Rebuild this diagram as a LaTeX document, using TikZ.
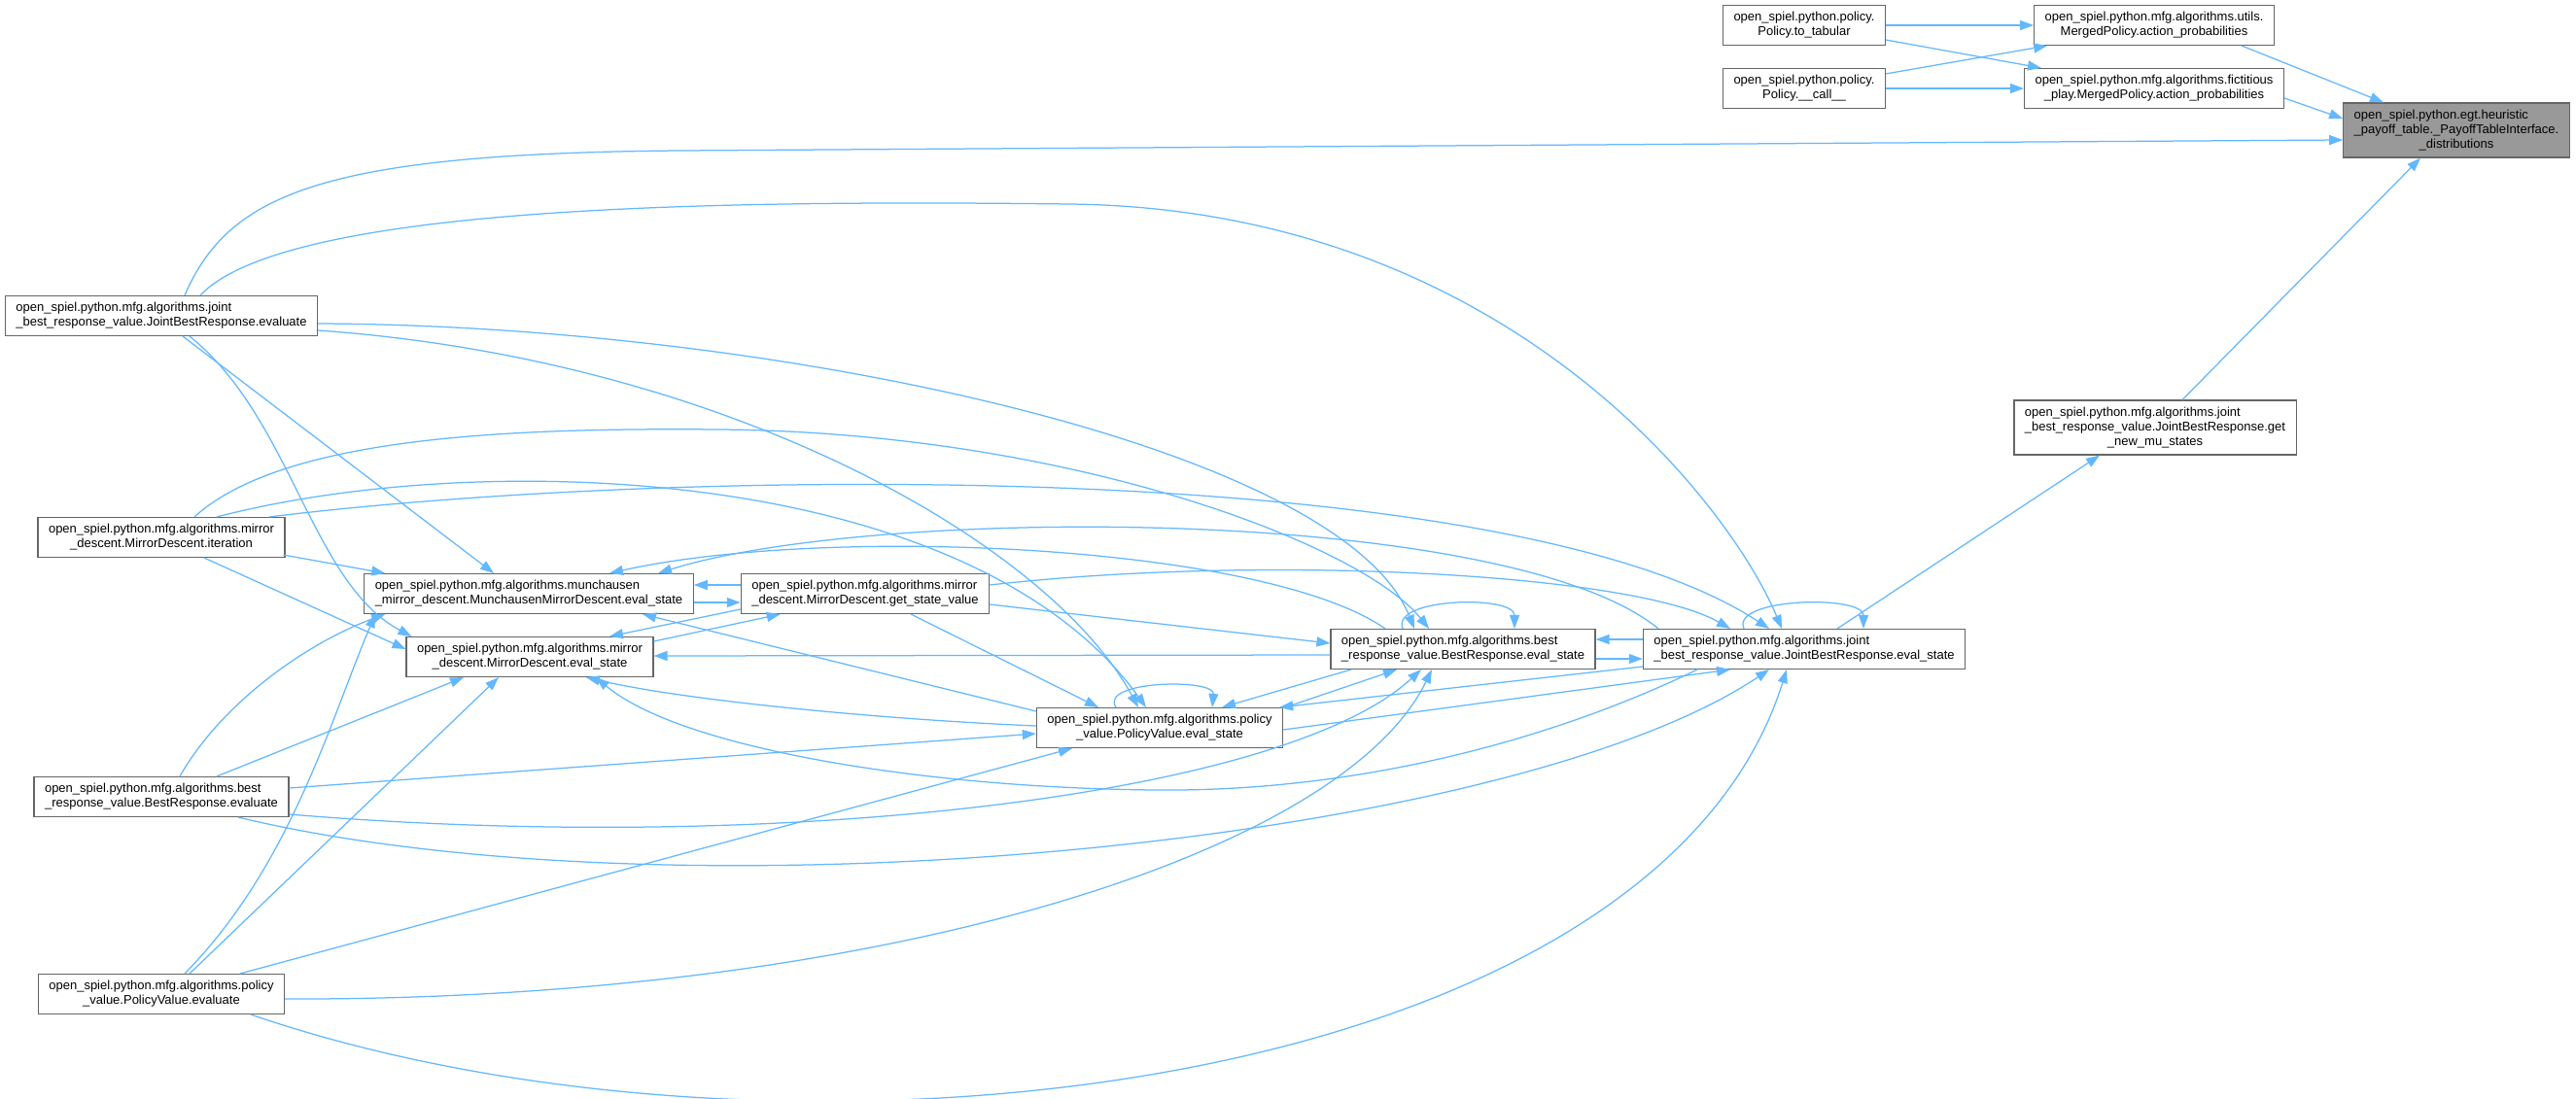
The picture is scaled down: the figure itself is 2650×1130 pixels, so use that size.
\documentclass[tikz,border=0pt]{standalone}
\usepackage{fontspec}
\setmainfont{Liberation Sans}
\usetikzlibrary{arrows.meta,calc}
\definecolor{edgeblue}{HTML}{63B8FF}
\definecolor{nodeborder}{HTML}{666666}
\definecolor{hilite}{HTML}{999999}
\newcommand{\dxfont}{\fontsize{13}{15}\selectfont}
\newcommand{\twol}[2]{\begin{tabular}{@{}l@{}}#1\\\multicolumn{1}{@{}c@{}}{#2}\end{tabular}}
\newcommand{\threel}[3]{\begin{tabular}{@{}l@{}}#1\\#2\\\multicolumn{1}{@{}c@{}}{#3}\end{tabular}}
\renewcommand{\arraystretch}{1}
\tikzset{
  nd/.style={draw=nodeborder, fill=white, line width=1.1pt, inner xsep=11pt, inner ysep=4pt, minimum height=41pt, font=\dxfont},
  nd3/.style={nd, minimum height=56pt},
  e/.style={draw=edgeblue, line width=1.25pt, -{Triangle[length=14pt,width=10pt]}, color=edgeblue},
}
\begin{document}
\begin{tikzpicture}[x=1pt,y=-1pt]
\useasboundingbox (0,0) rectangle (2650,1130);
\fill[white] (0,0) rectangle (2650,1130);
% nodes
\node[nd3, fill=hilite] (D) at (2527,134) {\threel{open\_spiel.python.egt.heuristic}{\_payoff\_table.\_PayoffTableInterface.}{\_distributions}};
\node[nd] (U) at (2216,26) {\twol{open\_spiel.python.mfg.algorithms.utils.}{MergedPolicy.action\_probabilities}};
\node[nd] (F) at (2216,91) {\twol{open\_spiel.python.mfg.algorithms.fictitious}{\_play.MergedPolicy.action\_probabilities}};
\node[nd] (T) at (1856,26) {\twol{open\_spiel.python.policy.}{Policy.to\_tabular}};
\node[nd] (C) at (1856,91) {\twol{open\_spiel.python.policy.}{Policy.\_\_call\_\_}};
\node[nd3] (GM) at (2217,440) {\threel{open\_spiel.python.mfg.algorithms.joint}{\_best\_response\_value.JointBestResponse.get}{\_new\_mu\_states}};
\node[nd] (JS) at (1856,668) {\twol{open\_spiel.python.mfg.algorithms.joint}{\_best\_response\_value.JointBestResponse.eval\_state}};
\node[nd] (BS) at (1505,668) {\twol{open\_spiel.python.mfg.algorithms.best}{\_response\_value.BestResponse.eval\_state}};
\node[nd] (PS) at (1193,749) {\twol{open\_spiel.python.mfg.algorithms.policy}{\_value.PolicyValue.eval\_state}};
\node[nd] (GS) at (890,611) {\twol{open\_spiel.python.mfg.algorithms.mirror}{\_descent.MirrorDescent.get\_state\_value}};
\node[nd] (MM) at (544,611) {\twol{open\_spiel.python.mfg.algorithms.munchausen}{\_mirror\_descent.MunchausenMirrorDescent.eval\_state}};
\node[nd] (ME) at (545,676) {\twol{open\_spiel.python.mfg.algorithms.mirror}{\_descent.MirrorDescent.eval\_state}};
\node[nd] (JE) at (166,325) {\twol{open\_spiel.python.mfg.algorithms.joint}{\_best\_response\_value.JointBestResponse.evaluate}};
\node[nd] (MI) at (166,553) {\twol{open\_spiel.python.mfg.algorithms.mirror}{\_descent.MirrorDescent.iteration}};
\node[nd] (BE) at (166,820) {\twol{open\_spiel.python.mfg.algorithms.best}{\_response\_value.BestResponse.evaluate}};
\node[nd] (PE) at (166,1023) {\twol{open\_spiel.python.mfg.algorithms.policy}{\_value.PolicyValue.evaluate}};
% edges to D and top block
\draw[e] ($(U.south)+(90,0)$) -- ($(D.north)+(-75,0)$);
\draw[e] ($(F.east)+(0,10)$) -- ($(D.west)+(0,-12)$);
\draw[e] ($(JE.north)+(24,0)$) .. controls (235,200) and (330,158) .. (700,155) -- ($(D.west)+(0,10)$);
\draw[e] ($(GM.north)+(28,0)$) -- ($(D.south)+(-37,0)$);
\draw[e] (T.east) -- (T.east -| U.west);
\draw[e] ($(T.south east)+(0,-6)$) -- ($(F.north west)+(18,0)$);
\draw[e] ($(C.north east)+(0,6)$) -- ($(U.south west)+(14,0)$);
\draw[e] (C.east) -- (C.east -| F.west);
% JS
\draw[e] ($(JS.north)+(34,0)$) -- ($(GM.south)+(-57,0)$);
\draw[e] ($(JS.north)+(-62,0)$) .. controls (1780,615) and (1917,612) .. ($(JS.north)+(61,0)$);
% JE
\draw[e] ($(JE.north)+(40,0)$) .. controls (290,215) and (700,205) .. (1100,210) .. controls (1550,215) and (1780,520) .. ($(JS.north)+(-23,0)$);
\draw[e] ($(JE.east)+(0,8)$) .. controls (800,335) and (1380,460) .. ($(BS.north)+(-50,0)$);
\draw[e] ($(JE.east)+(0,15)$) .. controls (750,370) and (1080,560) .. ($(PS.north)+(-22,0)$);
\draw[e] ($(JE.south)+(22,0)$) -- ($(MM.north)+(-36,0)$);
\draw[e] ($(JE.south)+(29,0)$) .. controls (300,430) and (320,600) .. ($(ME.north west)+(6,0)$);
% MI
\draw[e] ($(MI.south east)+(-2,-3)$) -- ($(MM.north west)+(22,0)$);
\draw[e] ($(MI.south)+(44,0)$) -- ($(ME.west)+(0,-8)$);
\draw[e] ($(MI.north)+(34,0)$) .. controls (290,450) and (520,440) .. (740,442) .. controls (1100,445) and (1400,560) .. ($(BS.north)+(-35,0)$);
\draw[e] ($(MI.north)+(57,0)$) .. controls (500,460) and (1000,480) .. ($(PS.north)+(-14,0)$);
\draw[e] ($(MI.north)+(111,0)$) .. controls (700,480) and (1550,470) .. ($(JS.north)+(-36,0)$);
% BE
\draw[e] ($(BE.north)+(19,0)$) .. controls (230,720) and (320,660) .. ($(MM.south west)+(22,0)$);
\draw[e] ($(BE.north)+(57,0)$) .. controls (320,760) and (420,720) .. ($(ME.south)+(-68,0)$);
\draw[e] ($(BE.east)+(0,-9)$) -- ($(PS.west)+(0,6)$);
\draw[e] ($(BE.east)+(0,18)$) .. controls (800,880) and (1320,820) .. ($(BS.south)+(-43,0)$);
\draw[e] ($(BE.south)+(79,0)$) .. controls (700,950) and (1550,870) .. ($(JS.south)+(-36,0)$);
% PE
\draw[e] ($(PE.north)+(24,0)$) .. controls (300,890) and (340,740) .. ($(MM.south west)+(12,0)$);
\draw[e] ($(PE.north)+(29,0)$) -- ($(ME.south)+(-32,0)$);
\draw[e] ($(PE.north)+(81,0)$) -- ($(PS.south)+(-90,0)$);
\draw[e] ($(PE.east)+(0,5)$) .. controls (900,1030) and (1380,880) .. ($(BS.south)+(-32,0)$);
\draw[e] ($(PE.south)+(92,0)$) .. controls (800,1230) and (1700,1130) .. ($(JS.south)+(-18,0)$);
% GS
\draw[e] ($(GS.west)+(0,-9)$) -- ($(MM.east)+(0,-9)$);
\draw[e] ($(MM.east)+(0,9)$) -- ($(GS.west)+(0,9)$);
\draw[e] ($(GS.west)+(0,16)$) -- ($(ME.north)+(82,0)$);
\draw[e] ($(ME.east)+(0,-16)$) -- ($(GS.south west)+(41,0)$);
\draw[e] ($(GS.south)+(47,0)$) -- ($(PS.north)+(-63,0)$);
\draw[e] ($(GS.east)+(0,11)$) -- ($(BS.west)+(0,-6)$);
\draw[e] ($(GS.east)+(0,-9)$) .. controls (1300,570) and (1680,590) .. ($(JS.north)+(-76,0)$);
% BS
\draw[e] ($(BS.north)+(-62,0)$) .. controls (1430,615) and (1558,612) .. ($(BS.north)+(53,0)$);
\draw[e] ($(BS.north)+(-80,0)$) .. controls (1300,560) and (850,540) .. ($(MM.north)+(83,0)$);
\draw[e] ($(BS.west)+(0,6)$) -- ($(ME.east)+(0,-1)$);
\draw[e] ($(BS.south)+(-115,0)$) -- ($(PS.north)+(64,0)$);
\draw[e] ($(BS.east)+(0,10)$) -- ($(JS.west)+(0,10)$);
% PS
\draw[e] ($(PS.north)+(-45,0)$) .. controls (1130,700) and (1250,698) .. ($(PS.north)+(54,0)$);
\draw[e] ($(PS.north west)+(0,4)$) -- ($(MM.south)+(117,0)$);
\draw[e] ($(PS.west)+(0,-2)$) .. controls (900,740) and (700,720) .. ($(ME.south)+(58,0)$);
\draw[e] ($(PS.north east)+(2,0)$) -- ($(BS.south)+(-68,0)$);
\draw[e] ($(PS.east)+(0,2)$) -- ($(JS.south)+(-76,0)$);
% JS callers
\draw[e] ($(JS.north)+(-150,0)$) .. controls (1550,520) and (900,520) .. ($(MM.north)+(133,0)$);
\draw[e] ($(JS.south)+(-110,0)$) .. controls (1600,760) and (1400,815) .. (1190,813) .. controls (950,811) and (700,770) .. ($(ME.south)+(68,0)$);
\draw[e] ($(JS.west)+(0,-10)$) -- ($(BS.east)+(0,-10)$);
\draw[e] ($(JS.west)+(0,18)$) -- ($(PS.north east)+(-4,0)$);
\end{tikzpicture}
\end{document}
